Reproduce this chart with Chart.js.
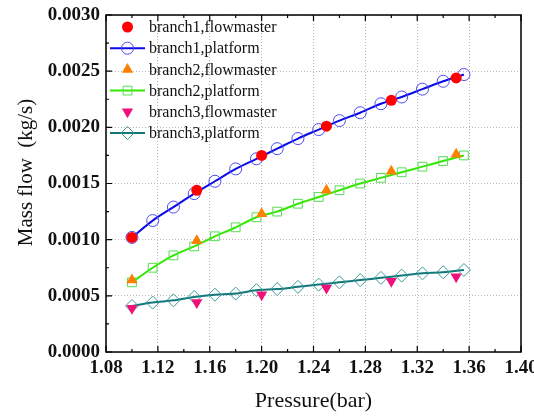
<!DOCTYPE html>
<html>
<head>
<meta charset="utf-8">
<script src="https://cdn.jsdelivr.net/npm/chart.js@4/dist/chart.umd.min.js"></script>
<style>
html,body{margin:0;padding:0;background:#fff;}
canvas{display:block;}
</style>
</head>
<body>
<canvas id="c" width="534" height="417"></canvas>
<script>
// ---- data ----
const pressureFlow = [1.10, 1.15, 1.20, 1.25, 1.30, 1.35];
const pressurePlat = [1.100, 1.116, 1.132, 1.148, 1.164, 1.180, 1.196, 1.212, 1.228, 1.244, 1.260, 1.276, 1.292, 1.308, 1.324, 1.340, 1.356];
const branch1Flow = [0.00102, 0.00144, 0.00175, 0.00201, 0.00224, 0.00244];
const branch1Plat = [0.00102, 0.00117, 0.00129, 0.00141, 0.00152, 0.00163, 0.00172, 0.00181, 0.00190, 0.00198, 0.00206, 0.00213, 0.00221, 0.00227, 0.00234, 0.00241, 0.00247];
const branch2Flow = [0.00064, 0.00099, 0.00123, 0.00144, 0.00161, 0.00176];
const branch2Plat = [0.00062, 0.00075, 0.00086, 0.00094, 0.00103, 0.00111, 0.00120, 0.00125, 0.00132, 0.00138, 0.00144, 0.00150, 0.00155, 0.00160, 0.00165, 0.00170, 0.00175];
const branch3Flow = [0.00039, 0.00044, 0.00051, 0.00057, 0.00063, 0.00067];
const branch3Plat = [0.00041, 0.00044, 0.00046, 0.00049, 0.00051, 0.00052, 0.00055, 0.00056, 0.00058, 0.00060, 0.00062, 0.00064, 0.00066, 0.00068, 0.00070, 0.00071, 0.00073];
const xTickValues = [1.08, 1.12, 1.16, 1.20, 1.24, 1.28, 1.32, 1.36, 1.40];
const yTickValues = [0.0000, 0.0005, 0.0010, 0.0015, 0.0020, 0.0025, 0.0030];
const seriesNames = ['branch1,flowmaster', 'branch1,platform', 'branch2,flowmaster', 'branch2,platform', 'branch3,flowmaster', 'branch3,platform'];
const xTitle = 'Pressure(bar)';
const yTitle = 'Mass flow  (kg/s)';

const pts = (xs, ys) => xs.map((x, i) => ({x: x, y: ys[i]}));

const SERIF = "'Liberation Serif', 'Times New Roman', serif";

const datasets = [
  {label: seriesNames[0], data: pts(pressureFlow, branch1Flow), showLine: false,
   pointStyle: 'circle', pointRadius: 5.5, backgroundColor: '#ff0000', borderColor: '#ff0000', pointBorderWidth: 0},
  {label: seriesNames[1], data: pts(pressurePlat, branch1Plat), showLine: true,
   borderColor: '#0a0ae6', borderWidth: 2, pointStyle: 'circle', pointRadius: 6,
   pointBorderColor: '#4a4af5', pointBackgroundColor: 'rgba(0,0,0,0)', pointBorderWidth: 1,
   cubicInterpolationMode: 'monotone'},
  {label: seriesNames[2], data: pts(pressureFlow, branch2Flow), showLine: false,
   pointStyle: 'triangle', pointRadius: 6.5, backgroundColor: '#ff8000', borderColor: '#ff8000', pointBorderWidth: 0},
  {label: seriesNames[3], data: pts(pressurePlat, branch2Plat), showLine: true,
   borderColor: '#33e800', borderWidth: 2, pointStyle: 'rect', pointRadius: 6.2,
   pointBorderColor: '#55dd55', pointBackgroundColor: 'rgba(0,0,0,0)', pointBorderWidth: 1,
   cubicInterpolationMode: 'monotone'},
  {label: seriesNames[4], data: pts(pressureFlow, branch3Flow), showLine: false,
   pointStyle: 'triangle', pointRotation: 180, pointRadius: 6.5, backgroundColor: '#f0107a', borderColor: '#f0107a', pointBorderWidth: 0},
  {label: seriesNames[5], data: pts(pressurePlat, branch3Plat), showLine: true,
   borderColor: '#107878', borderWidth: 2, pointStyle: 'rectRot', pointRadius: 6.5,
   pointBorderColor: '#3a9a9a', pointBackgroundColor: 'rgba(0,0,0,0)', pointBorderWidth: 1,
   cubicInterpolationMode: 'monotone'}
];

// frame, inner ticks, legend and rotated y title
const decor = {
  id: 'decor',
  afterDatasetsDraw(chart) {
    const ctx = chart.ctx;
    const a = chart.chartArea;
    const xs = chart.scales.x, ys = chart.scales.y;
    ctx.save();
    // frame
    ctx.strokeStyle = '#000';
    ctx.lineWidth = 1.5;
    ctx.strokeRect(a.left, a.top, a.right - a.left, a.bottom - a.top);
    // inner tick marks
    ctx.lineWidth = 1.2;
    ctx.beginPath();
    for (let i = 0; i < xTickValues.length; i++) {
      const px = xs.getPixelForValue(xTickValues[i]);
      ctx.moveTo(px, a.bottom); ctx.lineTo(px, a.bottom - 6);
      ctx.moveTo(px, a.top); ctx.lineTo(px, a.top + 6);
      if (i < xTickValues.length - 1) {
        const pm = xs.getPixelForValue((xTickValues[i] + xTickValues[i + 1]) / 2);
        ctx.moveTo(pm, a.bottom); ctx.lineTo(pm, a.bottom - 3);
        ctx.moveTo(pm, a.top); ctx.lineTo(pm, a.top + 3);
      }
    }
    for (let i = 0; i < yTickValues.length; i++) {
      const py = ys.getPixelForValue(yTickValues[i]);
      ctx.moveTo(a.left, py); ctx.lineTo(a.left + 6, py);
      if (i < yTickValues.length - 1) {
        const pm = ys.getPixelForValue((yTickValues[i] + yTickValues[i + 1]) / 2);
        ctx.moveTo(a.left, pm); ctx.lineTo(a.left + 3, pm);
      }
    }
    ctx.stroke();

    // legend
    const lx0 = a.left + 4, lx1 = a.left + 39, mx = a.left + 21.5, tx = a.left + 43;
    chart.data.datasets.forEach((ds, i) => {
      const y = a.top + 12 + i * 21.2;
      if (ds.showLine) {
        ctx.strokeStyle = ds.borderColor;
        ctx.lineWidth = ds.borderWidth;
        ctx.beginPath(); ctx.moveTo(lx0, y); ctx.lineTo(lx1, y); ctx.stroke();
      }
      ctx.fillStyle = ds.showLine ? ds.pointBackgroundColor : ds.backgroundColor;
      ctx.strokeStyle = ds.showLine ? ds.pointBorderColor : ds.borderColor;
      ctx.lineWidth = ds.showLine ? ds.pointBorderWidth : 0.01;
      Chart.helpers.drawPoint(ctx, {pointStyle: ds.pointStyle, rotation: ds.pointRotation || 0,
        radius: ds.pointRadius, borderWidth: ctx.lineWidth}, mx, y);
      ctx.fillStyle = '#111';
      ctx.font = '16px ' + SERIF;
      ctx.textAlign = 'left';
      ctx.textBaseline = 'middle';
      ctx.fillText(ds.label, tx, y + 1);
    });

    // y title
    ctx.fillStyle = '#111';
    ctx.font = '21px ' + SERIF;
    ctx.textAlign = 'center';
    ctx.textBaseline = 'middle';
    ctx.translate(26, (a.top + a.bottom) / 2 - 11);
    ctx.rotate(-Math.PI / 2);
    ctx.fillText(yTitle, 0, 0);
    ctx.restore();
  }
};

new Chart(document.getElementById('c'), {
  type: 'scatter',
  data: {datasets: datasets},
  plugins: [decor],
  options: {
    responsive: false,
    animation: false,
    events: [],
    layout: {padding: {top: 15, right: 13, left: 0, bottom: 0}},
    plugins: {legend: {display: false}, tooltip: {enabled: false}},
    scales: {
      x: {
        type: 'linear', min: 1.08, max: 1.40,
        afterBuildTicks: s => { s.ticks = xTickValues.map(v => ({value: v})); },
        afterFit: s => { s.height = 65; s.paddingLeft = 0; s.paddingRight = 0; },
        ticks: {font: {family: SERIF, size: 19, weight: 'bold'}, color: '#111', padding: 5,
                maxRotation: 0, autoSkip: false, callback: v => Number(v).toFixed(2)},
        grid: {color: '#b8b8b8', lineWidth: 1, drawTicks: false},
        border: {display: false, dash: [1, 2]},
        title: {display: true, text: xTitle, font: {family: SERIF, size: 22}, color: '#111', padding: {top: 4, bottom: 3}}
      },
      y: {
        type: 'linear', min: 0, max: 0.003,
        afterBuildTicks: s => { s.ticks = yTickValues.map(v => ({value: v})); },
        afterFit: s => { s.width = 106; s.paddingTop = 0; s.paddingBottom = 0; },
        ticks: {font: {family: SERIF, size: 19, weight: 'bold'}, color: '#111', padding: 6,
                autoSkip: false, callback: v => Number(v).toFixed(4)},
        grid: {color: '#b8b8b8', lineWidth: 1, drawTicks: false},
        border: {display: false, dash: [1, 2]}
      }
    }
  }
});
</script>
</body>
</html>
